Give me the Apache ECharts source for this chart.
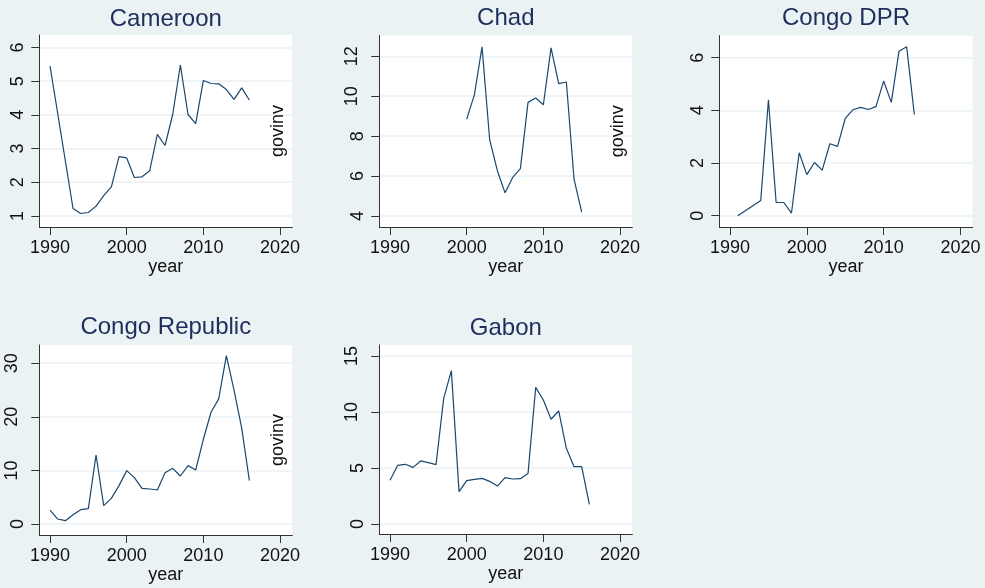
<!DOCTYPE html>
<html><head><meta charset="utf-8">
<script src="https://cdn.jsdelivr.net/npm/echarts@6/dist/echarts.min.js"></script>
<style>html,body{margin:0;padding:0;background:#eaf2f3}#c{width:985px;height:588px}</style>
</head><body><div id="c"></div>
<script>
const years = [1990,1991,1992,1993,1994,1995,1996,1997,1998,1999,2000,2001,2002,2003,2004,2005,2006,2007,2008,2009,2010,2011,2012,2013,2014,2015,2016];
const cameroon = [5.45,null,null,1.22,1.07,1.10,1.29,1.60,1.86,2.76,2.72,2.14,2.16,2.34,3.42,3.09,4.01,5.48,4.01,3.74,5.02,4.93,4.92,4.75,4.46,4.80,4.44];
const chad = [null,null,null,null,null,null,null,null,null,null,8.85,10.07,12.47,7.81,6.27,5.16,5.93,6.37,9.69,9.91,9.57,12.42,10.63,10.71,5.85,4.20,null];
const congoDPR = [null,0.00,null,null,0.58,4.40,0.50,0.50,0.10,2.39,1.56,2.02,1.73,2.73,2.63,3.69,4.02,4.11,4.03,4.14,5.11,4.30,6.24,6.41,3.84,null,null];
const congoRep = [2.61,0.93,0.62,1.74,2.68,2.86,12.88,3.42,4.79,7.16,9.96,8.65,6.66,6.53,6.35,9.58,10.39,8.96,10.89,10.08,15.81,20.85,23.34,31.42,25.0,17.9,8.1];
const gabon = [3.90,5.24,5.33,5.06,5.63,5.48,5.30,11.22,13.69,2.89,3.87,3.99,4.08,3.81,3.39,4.14,4.02,4.05,4.52,12.20,11.07,9.35,10.09,6.76,5.12,5.12,1.76];
const panelNames = ['Cameroon','Chad','Congo DPR','Congo Republic','Gabon'];
const xTicks = [1990,2000,2010,2020];
const yTicksCameroon = [1,2,3,4,5,6];
const yTicksChad = [4,6,8,10,12];
const yTicksCongoDPR = [0,2,4,6];
const yTicksCongoRep = [0,10,20,30];
const yTicksGabon = [0,5,10,15];
const yTitle = 'govinv';
const xTitle = 'year';

const seriesVals = [cameroon, chad, congoDPR, congoRep, gabon];
const yTicks = [yTicksCameroon, yTicksChad, yTicksCongoDPR, yTicksCongoRep, yTicksGabon];
const yRange = [[0.67,6.37],[3.45,13.04],[-0.43,6.84],[-2.05,33.4],[-0.89,15.98]];
const showYTitle = [true,true,false,true,false];
const boxes = [
  {left:39.3, top:35, width:253, height:192},
  {left:379.3, top:35.5, width:253, height:191.5},
  {left:719.3, top:35.5, width:253.4, height:191.5},
  {left:39.3, top:345, width:253, height:190},
  {left:379.3, top:345, width:253, height:189}
];
const titleY = [19, 18.5, 18.5, 327, 328];
const FONT = '"Liberation Sans", Arial, sans-serif';
const axisCol = '#333';

const grid = [], xAxis = [], yAxis = [], series = [], graphic = [];
boxes.forEach((b, i) => {
  grid.push({left:b.left, top:b.top, width:b.width, height:b.height, show:true, backgroundColor:'#ffffff', borderWidth:0, containLabel:false});
  xAxis.push({
    gridIndex:i, type:'value', min:1988.6, max:2021.6,
    axisLine:{show:true, onZero:false, lineStyle:{color:axisCol, width:1}},
    axisTick:{show:true, length:8, customValues:xTicks, lineStyle:{color:axisCol, width:1}},
    axisLabel:{customValues:xTicks, fontSize:18, color:'#111', margin:12, fontFamily:FONT, formatter: v => String(v)},
    splitLine:{show:false},
    name:xTitle, nameLocation:'middle', nameGap:31,
    nameTextStyle:{fontSize:18, color:'#111', fontFamily:FONT}
  });
  yAxis.push({
    gridIndex:i, type:'value', min:yRange[i][0], max:yRange[i][1],
    axisLine:{show:true, onZero:false, lineStyle:{color:axisCol, width:1}},
    axisTick:{show:true, length:8, customValues:yTicks[i], lineStyle:{color:axisCol, width:1}},
    axisLabel:{
      customValues:yTicks[i], rotate:90, fontSize:18, color:'#111', margin:12, fontFamily:FONT,
      formatter: v => (String(v).length > 1 ? '{w|' + v + '}' : '{n|' + v + '}'),
      rich:{
        w:{fontSize:18, color:'#111', fontFamily:FONT, padding:[0,0,6,0]},
        n:{fontSize:18, color:'#111', fontFamily:FONT}
      }
    },
    splitLine:{show:true, lineStyle:{color:'#eaf2f3', width:1.5}},
    name: showYTitle[i] ? yTitle : '', nameLocation:'middle', nameGap:-248, nameRotate:90,
    nameTextStyle:{fontSize:18, color:'#111', fontFamily:FONT}
  });
  series.push({
    type:'line', xAxisIndex:i, yAxisIndex:i,
    data: years.map((yr, k) => [yr, seriesVals[i][k]]),
    showSymbol:false, connectNulls:true, silent:true,
    lineStyle:{color:'#1a476f', width:1.2}
  });
  graphic.push({
    type:'text', x:b.left + b.width/2, y:titleY[i],
    style:{text:panelNames[i], fill:'#1f2d5c', font:'24px ' + FONT, align:'center', verticalAlign:'middle', textAlign:'center', textVerticalAlign:'middle'}
  });
});

const chart = echarts.init(document.getElementById('c'), null, {renderer:'canvas'});
chart.setOption({
  backgroundColor:'#eaf2f3',
  animation:false,
  grid, xAxis, yAxis, series, graphic
});
</script>
</body></html>
